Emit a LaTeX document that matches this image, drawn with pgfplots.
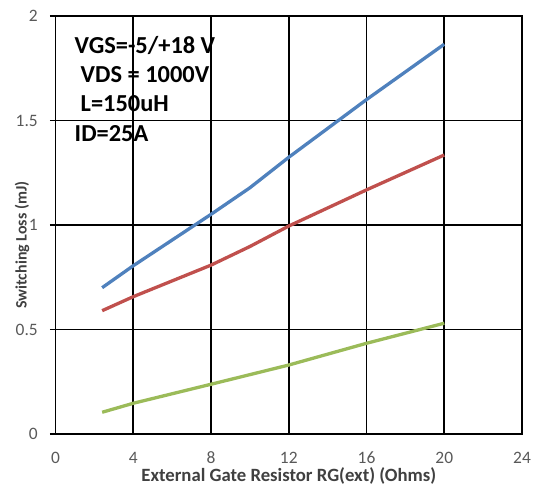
\documentclass[border=0pt]{standalone}
\usepackage{fontspec}
\setmainfont{Carlito}
\usepackage{pgfplots}
\pgfplotsset{compat=1.18}
\usetikzlibrary{calc}
\definecolor{sblue}{HTML}{4F81BD}
\definecolor{sred}{HTML}{C0504D}
\definecolor{sgreen}{HTML}{9BBB59}
\definecolor{tickgray}{HTML}{595959}
\definecolor{labgray}{HTML}{404040}
\begin{document}
\begin{tikzpicture}
\begin{axis}[name=ax, scale only axis, width=466.5bp, height=418bp,
  xmin=0, xmax=24, ymin=0, ymax=2,
  xtick={0,4,8,12,16,20,24}, xticklabels={0,4,8,12,16,20,24},
  ytick={0,0.5,1,1.5,2}, yticklabels={0,0.5,1,1.5,2},
  grid=major, major grid style={black, line width=1.6bp},
  axis line style={black, line width=1.6bp},
  xtick style={draw=none}, ytick style={black, line width=1.6bp},
  ytick align=center, major tick length=11bp, ytick pos=left, xtick pos=bottom,
  /pgf/number format/assume math mode=true,
  xticklabel style={font=\fontsize{17.5}{17.5}\selectfont, text=tickgray, anchor=center, yshift=-24bp},
  yticklabel style={font=\fontsize{17.5}{17.5}\selectfont, text=tickgray, anchor=east, xshift=-12bp, inner sep=0pt},
  xlabel={\textbf{External Gate Resistor RG(ext) (Ohms)}},
  ylabel={\textbf{Switching Loss (mJ)}},
  xlabel style={font=\fontsize{18.8}{18.8}\selectfont, text=labgray, at={(axis description cs:0.5,0)}, anchor=center, yshift=-42bp},
  ylabel style={font=\fontsize{16}{16}\selectfont, text=labgray, at={(axis description cs:-0.0718,0.452)}, anchor=center},
  clip=false,
]
\addplot[sblue, line width=3.3bp] coordinates {(2.4,0.70) (4,0.805) (8,1.051) (10,1.178) (12,1.324) (16,1.60) (20,1.865)};
\addplot[sred, line width=3.3bp] coordinates {(2.4,0.59) (4,0.657) (8,0.808) (10,0.897) (12,0.995) (16,1.168) (20,1.335)};
\addplot[sgreen, line width=3.3bp] coordinates {(2.4,0.104) (4,0.147) (8,0.238) (12,0.33) (16,0.434) (20,0.53)};
\node[anchor=north west, align=left, font=\fontsize{24.5}{29.5}\selectfont\bfseries, inner sep=0pt] at (axis cs:0.98,1.905)
  {VGS=-5/+18 V\\\hspace{6bp}VDS = 1000V\\\hspace{6bp}L=150uH\\ID=25A};
\end{axis}
\pgfresetboundingbox
\path[use as bounding box] ($(ax.south west)+(-55.5bp,-57bp)$) rectangle ($(ax.north east)+(19bp,16bp)$);
\end{tikzpicture}
\end{document}
